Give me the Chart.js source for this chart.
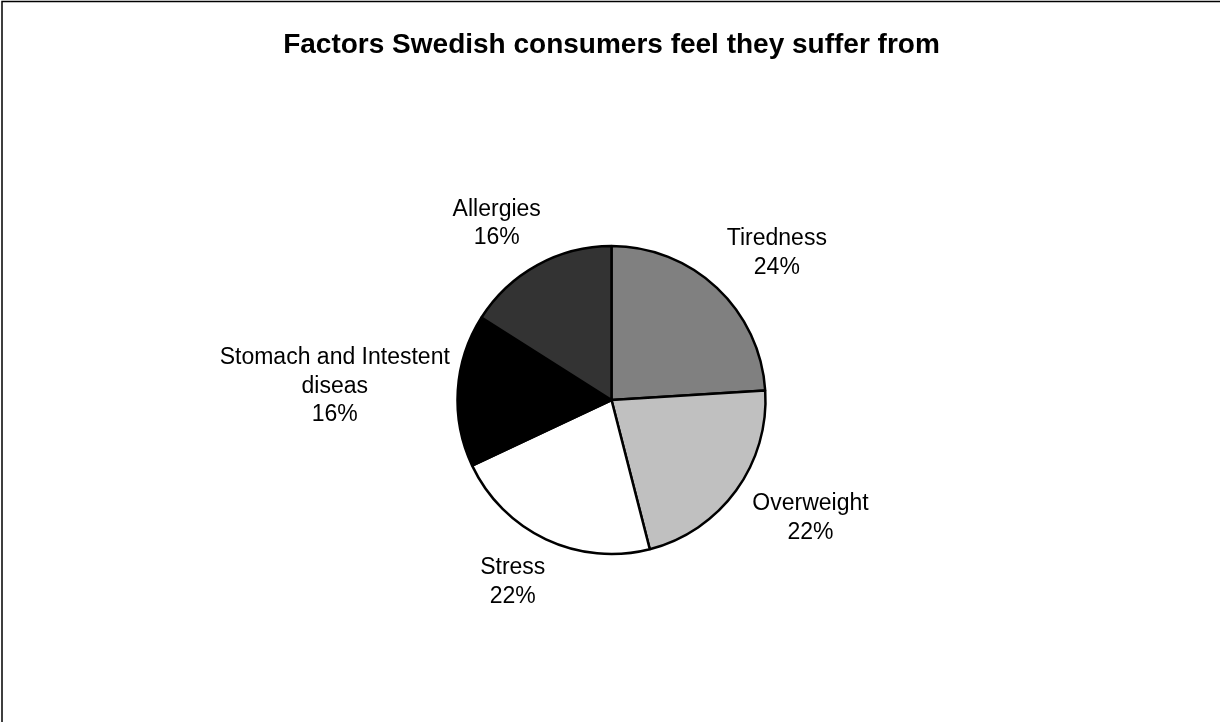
<!DOCTYPE html>
<html>
<head>
<meta charset="utf-8">
<title>Factors Swedish consumers feel they suffer from</title>
<script src="https://cdn.jsdelivr.net/npm/chart.js@4/dist/chart.umd.min.js"></script>
<style>
    html, body { margin: 0; padding: 0; background: #ffffff; }
    #wrap { width: 1220px; height: 722px; }
</style>
</head>
<body>
<div id="wrap"><canvas id="pie-chart" width="1220" height="722"></canvas></div>
<script>
// Chart data
const categories = ["Tiredness", "Overweight", "Stress", "Stomach and Intestent diseas", "Allergies"];
const shares = [24, 22, 22, 16, 16];
const sliceColors = ["#808080", "#c0c0c0", "#ffffff", "#000000", "#333333"];

const FONT = '"Liberation Sans", Arial, sans-serif';

// Thin frame around the chart (only top and left edge are visible)
const framePlugin = {
    id: "frame",
    beforeDraw(chart) {
        const c = chart.ctx;
        c.save();
        c.fillStyle = "#ffffff";
        c.fillRect(0, 0, chart.width, chart.height);
        c.strokeStyle = "#000000";
        c.lineWidth = 1.5;
        c.strokeRect(2, 1.5, chart.width + 20, chart.height + 20);
        c.restore();
    }
};

// Wrap a label into lines no wider than maxWidth
function wrapText(c, text, maxWidth) {
    const words = text.split(" ");
    const lines = [];
    let line = "";
    words.forEach(w => {
        const test = line ? line + " " + w : w;
        if (c.measureText(test).width > maxWidth && line) {
            lines.push(line);
            line = w;
        } else {
            line = test;
        }
    });
    if (line) lines.push(line);
    return lines;
}

// Outside labels: category name + percentage
const outsideLabels = {
    id: "outsideLabels",
    afterDatasetsDraw(chart) {
        const c = chart.ctx;
        const meta = chart.getDatasetMeta(0);
        const data = chart.data.datasets[0].data;
        const total = data.reduce((a, b) => a + b, 0);
        const lineH = 28.5;

        c.save();
        c.font = "23px " + FONT;
        c.fillStyle = "#000000";
        c.textAlign = "center";
        c.textBaseline = "middle";

        meta.data.forEach((arc, i) => {
            const pct = Math.round(data[i] / total * 100) + "%";
            const lines = wrapText(c, chart.data.labels[i], 250).concat([pct]);
            const hw = Math.max(...lines.map(l => c.measureText(l).width)) / 2;
            const hh = (lines.length - 1) * lineH / 2 + 8;

            const mid = (arc.startAngle + arc.endAngle) / 2;
            const ux = Math.cos(mid);
            const uy = Math.sin(mid);
            const r = arc.outerRadius;
            const cx = arc.x + ux * (r + 60 + hw * 0.55);
            const cy = arc.y + uy * (r + 25 + hh);

            lines.forEach((l, j) => {
                c.fillText(l, cx, cy + (j - (lines.length - 1) / 2) * lineH);
            });
        });
        c.restore();
    }
};

const ctx = document.querySelector("#pie-chart").getContext("2d");

new Chart(ctx, {
    type: "pie",
    data: {
        labels: categories,
        datasets: [{
            data: shares,
            backgroundColor: sliceColors,
            borderColor: "#000000",
            borderWidth: 2.5
        }]
    },
    options: {
        responsive: false,
        animation: false,
        devicePixelRatio: 1,
        radius: 154,
        rotation: 0,
        layout: { padding: { top: 0, bottom: 67, left: 3, right: 0 } },
        plugins: {
            legend: { display: false },
            tooltip: { enabled: false },
            title: {
                display: true,
                text: "Factors Swedish consumers feel they suffer from",
                color: "#000000",
                font: { family: FONT, size: 28, weight: "bold", lineHeight: 1.2 },
                padding: { top: 28.5, bottom: 83 }
            }
        }
    },
    plugins: [framePlugin, outsideLabels]
});
</script>
</body>
</html>
